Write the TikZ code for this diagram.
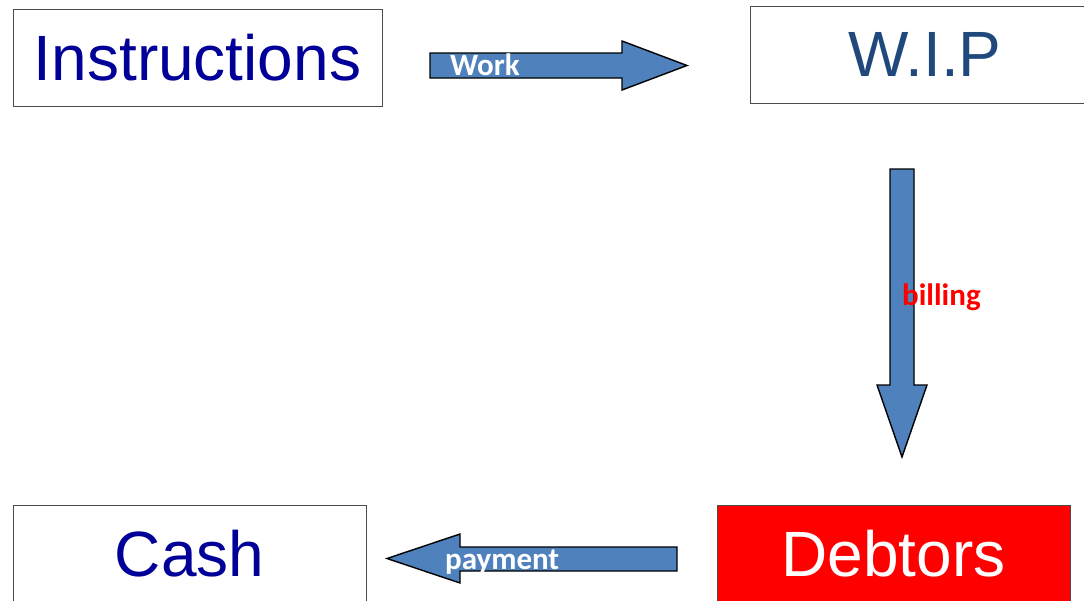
\documentclass[tikz,border=0pt]{standalone}
\usepackage{fontspec}
\setmainfont{Liberation Sans}
\newfontfamily\labelfont{Carlito}
\definecolor{instblue}{RGB}{0,0,153}
\definecolor{wipblue}{RGB}{31,73,125}
\definecolor{arrowblue}{RGB}{79,129,189}
\begin{document}
\begin{tikzpicture}[x=1pt,y=-1pt,
  stagebox/.style={draw=black!70, line width=0.8pt, rectangle, inner sep=0pt,
    font=\fontsize{64}{70}\selectfont},
  blockarrow/.style={fill=arrowblue, draw=black, line width=1.4pt, line join=miter},
  flowlabel/.style={anchor=base west, inner sep=0pt,
    font=\labelfont\bfseries\fontsize{31}{33}\selectfont}]
\useasboundingbox (0,0) rectangle (1084,600);

% stages of the cycle
\node[stagebox, minimum width=369pt, minimum height=97pt, text=instblue]
  (instr) at (197.5,57.5) {Instructions};
\node[stagebox, minimum width=350pt, minimum height=97pt, text=wipblue]
  (wip) at (925,54.5) {W.I.P};
\node[stagebox, minimum width=353pt, minimum height=97pt, text=instblue]
  (cash) at (189.5,553.5) {Cash};
\node[stagebox, fill=red, minimum width=353pt, minimum height=97pt, text=white]
  (debt) at (893.5,553.5) {Debtors};

% Work: Instructions -> W.I.P
\draw[blockarrow] (430,53) -- (622,53) -- (622,41) -- (687,65.5) -- (622,90)
  -- (622,78) -- (430,78) -- cycle;
\node[flowlabel, text=white] (work) at (450,75) {Work};

% billing: W.I.P -> Debtors
\draw[blockarrow] (890,169) -- (914,169) -- (914,385) -- (927,385) -- (902,457)
  -- (877,385) -- (890,385) -- cycle;
\node[flowlabel, text=red] (bill) at (902,305) {billing};

% payment: Debtors -> Cash
\draw[blockarrow] (677,547) -- (460,547) -- (460,534) -- (387,558.5) -- (460,583)
  -- (460,571) -- (677,571) -- cycle;
\node[flowlabel, text=white] (pay) at (445,569) {payment};
\end{tikzpicture}
\end{document}
